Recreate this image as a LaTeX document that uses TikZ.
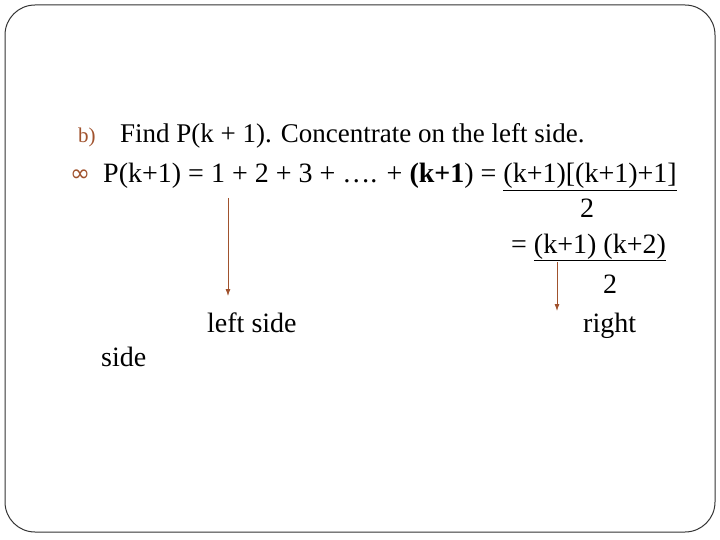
\documentclass[tikz,border=0pt]{standalone}
\usepackage{fontspec}
\usetikzlibrary{arrows.meta}
\setmainfont{Liberation Serif}
\newfontfamily\dejavu{DejaVu Sans}
\definecolor{brn}{HTML}{A0522D}
\begin{document}
\begin{tikzpicture}[x=1pt,y=-1pt,
  txt/.style={inner sep=0pt,anchor=base west,font=\fontsize{27}{30}\selectfont},
  big/.style={inner sep=0pt,anchor=base west,font=\fontsize{28}{32}\selectfont},
  arr/.style={draw=brn,thick,-{Latex[length=7pt,width=5pt]}}]
\useasboundingbox (0,0) rectangle (720,540);
\draw[rounded corners=30pt,line width=1pt,draw=black!80] (5,5) rectangle (715,532);
\node[txt,text=brn,font=\fontsize{21}{24}\selectfont] (b) at (78,143) {b)};
\node[txt] (l1) at (120,143) {Find P(k + 1). Concentrate on the left side.};
\node[txt,text=brn,font=\dejavu\fontsize{24}{26}\selectfont] (bul) at (70,182) {∞};
\node[big] (l2) at (103,183) {P(k+1) = 1 + 2 + 3 + …. + \textbf{(k+1}) = \underline{(k+1)[(k+1)+1]}};
\node[big] (t2a) at (580,218) {2};
\node[big] (l3) at (511,253) {= \underline{(k+1) (k+2)}};
\node[big] (t2b) at (603,293) {2};
\node[big] (ls) at (207,332) {left side};
\node[big] (rt) at (583,332) {right};
\node[big] (sd) at (101,366) {side};
\coordinate (a1s) at (228,198); \coordinate (a1e) at (228,296);
\coordinate (a2s) at (557,262); \coordinate (a2e) at (557,311);
\draw[arr] (a1s) -- (a1e);
\draw[arr] (a2s) -- (a2e);
\end{tikzpicture}
\end{document}
